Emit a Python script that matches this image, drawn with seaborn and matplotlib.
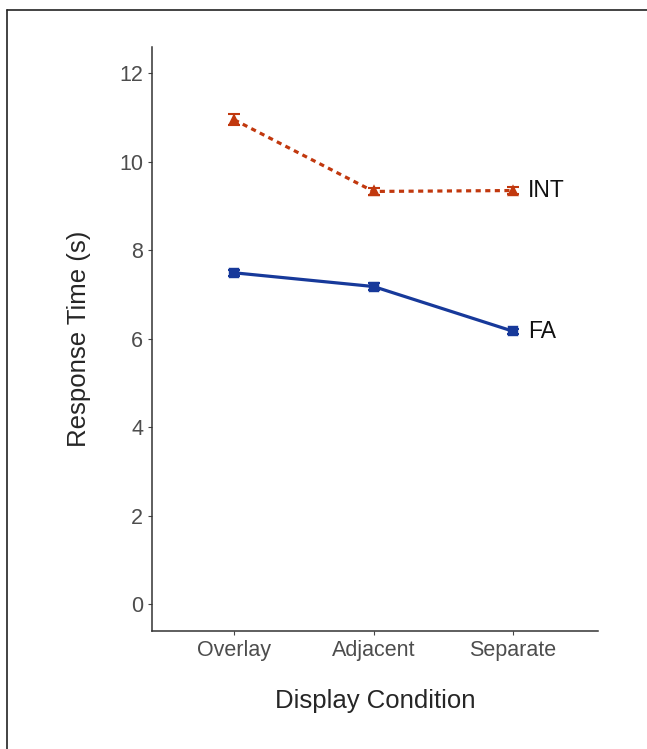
import numpy as np
import pandas as pd
import seaborn as sns
import matplotlib.pyplot as plt
from matplotlib.lines import Line2D

conditions = ["Overlay", "Adjacent", "Separate"]
int_rt = [10.95, 9.33, 9.35]
int_se = [0.12, 0.08, 0.08]
fa_rt = [7.49, 7.18, 6.17]
fa_se = [0.07, 0.07, 0.06]
y_ticks = [0, 2, 4, 6, 8, 10, 12]

df = pd.DataFrame({
    "Display Condition": conditions * 2,
    "rt": int_rt + fa_rt,
    "se": int_se + fa_se,
    "group": ["INT"] * 3 + ["FA"] * 3,
})

sns.set_style("ticks")
plt.rcParams['font.family'] = ['Liberation Sans', 'DejaVu Sans']

colors = {"INT": "#c1380e", "FA": "#17399a"}
markers = {"INT": "^", "FA": "s"}
styles = {"INT": (0, (1.6, 1.4)), "FA": "-"}

fig = plt.figure(figsize=(6.47, 7.49), dpi=100)
ax = fig.add_axes([0.235, 0.1575, 0.689, 0.78])

for g in ["INT", "FA"]:
    sub = df[df["group"] == g]
    sns.pointplot(data=sub, x="Display Condition", y="rt", order=conditions,
                  color=colors[g], markers=markers[g], linestyles=styles[g],
                  errorbar=None, ax=ax, markersize=6, linewidth=2.3)
    ax.errorbar(np.arange(len(conditions)), sub["rt"], yerr=sub["se"], fmt="none",
                ecolor=colors[g], elinewidth=1.5, capsize=4, capthick=1.5)
    ax.text(2.11, sub["rt"].iloc[-1], g, fontsize=16.5, va="center", ha="left", color="#111111")

ax.set_xlim(-0.59, 2.61)
ax.set_ylim(-0.61, 12.6)
ax.set_yticks(y_ticks)
ax.tick_params(axis="both", labelsize=15.5, colors="#444444", length=3, width=0.8)
ax.tick_params(axis="both", labelcolor="#4d4d4d")
for s in ["left", "bottom"]:
    ax.spines[s].set_color("#333333")
    ax.spines[s].set_linewidth(1.1)
sns.despine(ax=ax)
ax.set_xlabel("Display Condition", fontsize=18.5, labelpad=20)
ax.set_ylabel("Response Time (s)", fontsize=18.5, labelpad=20)

# frame lines at top and left edges of the image
fig.add_artist(Line2D([0.011, 0.011], [0, 0.987], transform=fig.transFigure, color="#222222", lw=1.2))
fig.add_artist(Line2D([0.011, 1.0], [0.987, 0.987], transform=fig.transFigure, color="#222222", lw=1.2))

fig.savefig("out.png", dpi=100)
